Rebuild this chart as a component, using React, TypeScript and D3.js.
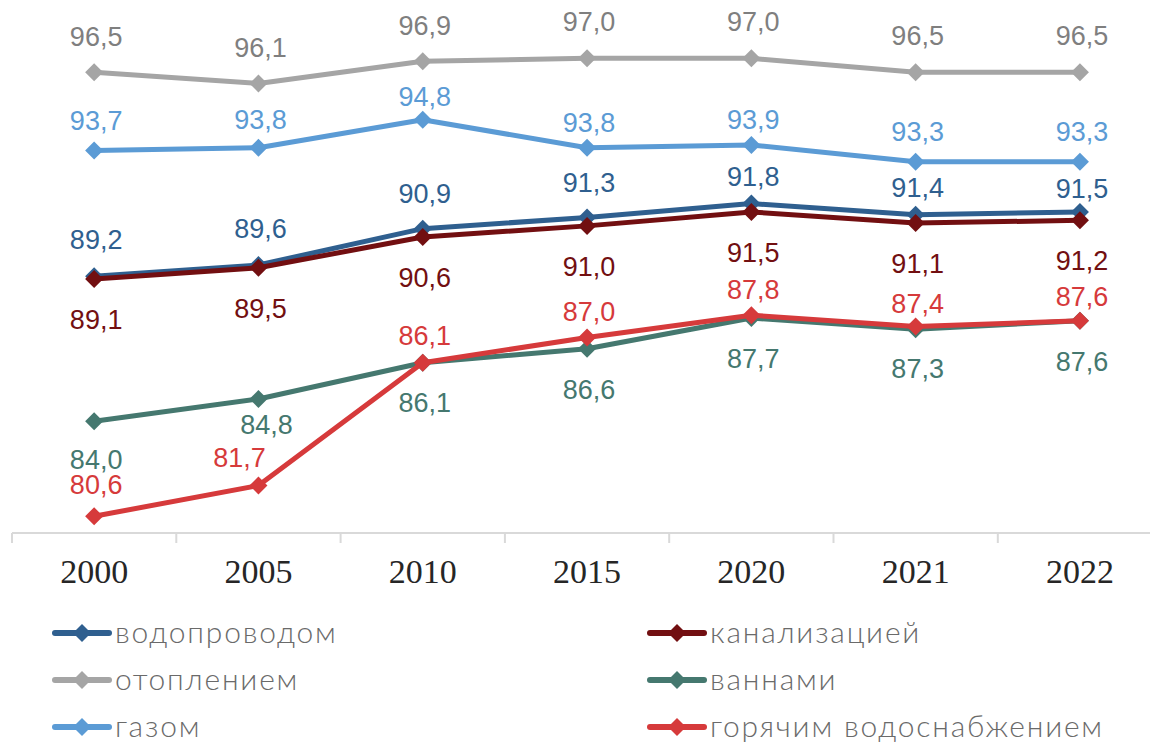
import * as d3 from 'd3'

const years = ['2000', '2005', '2010', '2015', '2020', '2021', '2022']

const vodoprovod = [89.2, 89.6, 90.9, 91.3, 91.8, 91.4, 91.5]
const kanalizatsiya = [89.1, 89.5, 90.6, 91.0, 91.5, 91.1, 91.2]
const otoplenie = [96.5, 96.1, 96.9, 97.0, 97.0, 96.5, 96.5]
const vanny = [84.0, 84.8, 86.1, 86.6, 87.7, 87.3, 87.6]
const gaz = [93.7, 93.8, 94.8, 93.8, 93.9, 93.3, 93.3]
const goryachaya = [80.6, 81.7, 86.1, 87.0, 87.8, 87.4, 87.6]

// label placement relative to marker (baseline offset), hand-tuned like the source
const series = [
  { name: 'водопроводом', values: vodoprovod, color: '#2f5f8f', text: '#2f5f8f', dy: [-27, -27, -26, -26, -18, -18, -14], dx: [0, 0, 0, 0, 0, 0, 0] },
  { name: 'канализацией', values: kanalizatsiya, color: '#720f11', text: '#720f11', dy: [50, 50, 50, 50, 50, 50, 50], dx: [0, 0, 0, 0, 0, 0, 0] },
  { name: 'отоплением', values: otoplenie, color: '#a5a5a5', text: '#7f7f7f', dy: [-26, -26, -26, -27, -27, -27, -27], dx: [0, 0, 0, 0, 0, 0, 0] },
  { name: 'ваннами', values: vanny, color: '#45786f', text: '#45786f', dy: [48, 35, 49, 50, 50, 49, 50], dx: [0, 6, 0, 0, 0, 0, 0] },
  { name: 'газом', values: gaz, color: '#5b9bd5', text: '#5b9bd5', dy: [-20, -19, -14, -16, -16, -21, -21], dx: [0, 0, 0, 0, 0, 0, 0] },
  { name: 'горячим водоснабжением', values: goryachaya, color: '#d63a3b', text: '#d63a3b', dy: [-22, -19, -18, -17, -16, -13, -15], dx: [0, -21, 0, 0, 0, 0, 0] },
]

const W = 1150
const H = 742
const bandW = 164.3
const axisY = 533

const fmt = (v: number) => v.toFixed(1).replace('.', ',')

const diamond = (cx: number, cy: number, r: number) =>
  `M${cx},${cy - r}L${cx + r},${cy}L${cx},${cy + r}L${cx - r},${cy}Z`

export default function App() {
  const x = d3.scaleBand().domain(years).range([12, 12 + bandW * years.length])
  const y = d3.scaleLinear().domain([80, 98]).range([axisY, axisY - 18 * 27.92])
  const cx = (yr: string) => (x(yr) ?? 0) + x.bandwidth() / 2

  const line = d3.line<number>()
    .x((_, i) => cx(years[i]))
    .y(d => y(d))

  const ticks = [...years.map(yr => x(yr) ?? 0), 12 + bandW * years.length]

  return (
    <svg width={W} height={H} style={{ position: 'absolute', left: 0, top: 0, background: '#fff' }}>
      {/* x axis */}
      <line x1={12} x2={W} y1={axisY} y2={axisY} stroke="#d9d9d9" strokeWidth={2} />
      {ticks.map((t, i) => (
        <line key={i} x1={t} x2={t} y1={axisY} y2={axisY + 10} stroke="#d9d9d9" strokeWidth={2} />
      ))}
      {years.map(yr => (
        <text key={yr} x={cx(yr)} y={583} textAnchor="middle"
          fontFamily="'Liberation Serif', serif" fontSize={34} fill="#262626">{yr}</text>
      ))}

      {/* lines and markers */}
      {series.map(s => (
        <g key={s.name}>
          <path d={line(s.values) ?? ''} fill="none" stroke={s.color} strokeWidth={5} strokeLinejoin="round" strokeLinecap="round" />
          {s.values.map((v, i) => (
            <path key={i} d={diamond(cx(years[i]), y(v), 9)} fill={s.color} />
          ))}
        </g>
      ))}

      {/* data labels */}
      {series.map(s => (
        <g key={s.name + '-lbl'}>
          {s.values.map((v, i) => (
            <text key={i} x={cx(years[i]) + 2 + s.dx[i]} y={y(v) + s.dy[i]} textAnchor="middle"
              fontFamily="'Liberation Sans', Arial, sans-serif" fontSize={27} fill={s.text}>{fmt(v)}</text>
          ))}
        </g>
      ))}

      {/* legend */}
      {series.map((s, i) => {
        const col = i % 2
        const row = Math.floor(i / 2)
        const lx = col === 0 ? 55 : 650
        const ly = 633 + row * 47
        return (
          <g key={s.name + '-leg'}>
            <line x1={lx} x2={lx + 54} y1={ly} y2={ly} stroke={s.color} strokeWidth={6} strokeLinecap="round" />
            <path d={diamond(lx + 27, ly, 9)} fill={s.color} />
            <text x={lx + 60} y={ly + 10} fontFamily="'Lato Light', Lato, 'Open Sans', sans-serif" fontWeight={300}
              fontSize={30} letterSpacing={1.8} fill="#6a6a6a">{s.name}</text>
          </g>
        )
      })}
    </svg>
  )
}
